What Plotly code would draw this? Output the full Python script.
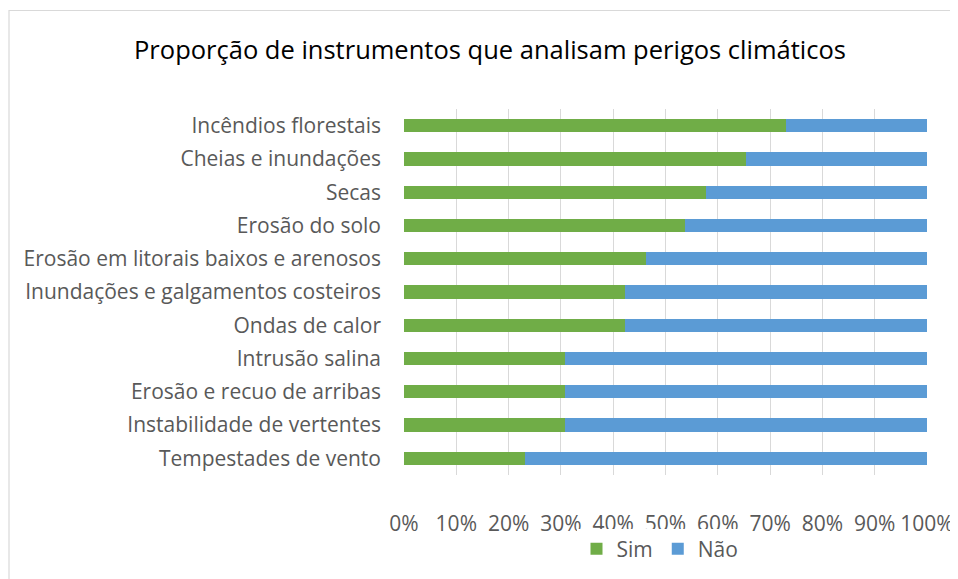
import plotly.graph_objects as go

categories = [
    "Incêndios florestais",
    "Cheias e inundações",
    "Secas",
    "Erosão do solo",
    "Erosão em litorais baixos e arenosos",
    "Inundações e galgamentos costeiros",
    "Ondas de calor",
    "Intrusão salina",
    "Erosão e recuo de arribas",
    "Instabilidade de vertentes",
    "Tempestades de vento",
]
sim = [0.731, 0.654, 0.577, 0.538, 0.462, 0.423, 0.423, 0.308, 0.308, 0.308, 0.231]
nao = [0.269, 0.346, 0.423, 0.462, 0.538, 0.577, 0.577, 0.692, 0.692, 0.692, 0.769]
tick_vals = [0, 0.1, 0.2, 0.3, 0.4, 0.5, 0.6, 0.7, 0.8, 0.9, 1.0]
tick_text = ["0%", "10%", "20%", "30%", "40%", "50%", "60%", "70%", "80%", "90%", "100%"]

cats = categories[::-1]
fig = go.Figure()
fig.add_trace(go.Bar(y=cats, x=sim[::-1], name="Sim", orientation="h",
                     marker=dict(color="#70AD47", line=dict(width=0))))
fig.add_trace(go.Bar(y=cats, x=nao[::-1], name="Não", orientation="h",
                     marker=dict(color="#5B9BD5", line=dict(width=0))))

# page body has an 8px margin, so figure coords = page coords - 8
W, H = 950, 571
L, R, T, B = 396, 31, 101, 104
PW, PH = W - L - R, H - T - B
fig.update_layout(
    width=W, height=H,
    barmode="stack", bargap=0.6,
    margin=dict(l=L, r=R, t=T, b=B, pad=0, autoexpand=False),
    paper_bgcolor="white", plot_bgcolor="white",
    font=dict(family="Open Sans, sans-serif", color="#595959", size=21),
    title=dict(text="Proporção de instrumentos que analisam perigos climáticos",
               x=482 / W, xanchor="center", y=1 - 42 / H, yanchor="middle",
               font=dict(size=25.5, color="#000000")),
    xaxis=dict(range=[0, 1], tickvals=tick_vals, ticktext=tick_text,
               showgrid=True, gridcolor="#D9D9D9", gridwidth=1,
               zeroline=False, showline=False, ticks="", automargin=False,
               ticklabeloverflow="allow",
               ticklabelstandoff=34, tickfont=dict(size=21, color="#595959")),
    yaxis=dict(showgrid=False, zeroline=False, showline=False, ticks="",
               automargin=False,
               ticklabelstandoff=22, tickfont=dict(size=21, color="#595959")),
    legend=dict(orientation="h", x=(652 - L) / PW, xanchor="center",
                y=-(541 - (H - B)) / PH, yanchor="middle",
                font=dict(size=21, color="#595959"), itemwidth=30,
                traceorder="normal"),
    shapes=[dict(type="rect", xref="paper", yref="paper",
                 x0=(1 - L) / PW, x1=(W + 20 - L) / PW,
                 y0=-(H + 20 - (H - B)) / PH, y1=1 + (T - 2.5) / PH,
                 line=dict(color="#D9D9D9", width=1.2), fillcolor="rgba(0,0,0,0)",
                 layer="below")],
)
fig.write_html("out.html")
